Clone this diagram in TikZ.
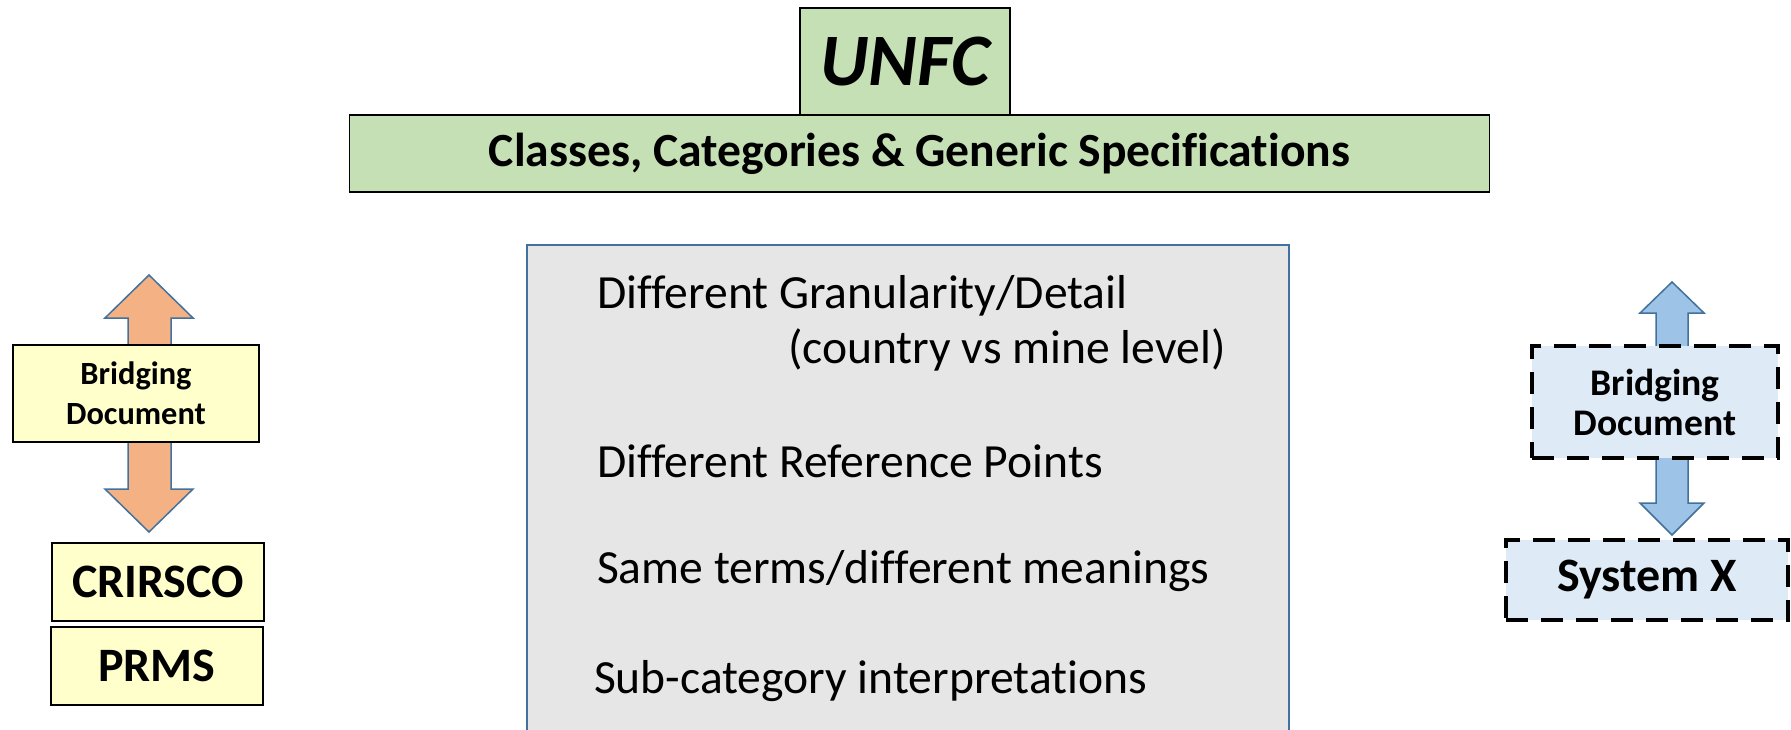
\documentclass[tikz,border=0pt]{standalone}
\usepackage{fontspec}
\setmainfont{Carlito}[Ligatures={NoCommon}]
\usetikzlibrary{positioning}
\definecolor{unfcgreen}{RGB}{197,224,180}
\definecolor{paleyellow}{RGB}{255,255,204}
\definecolor{arroworange}{RGB}{244,177,131}
\definecolor{arrowblue}{RGB}{157,195,230}
\definecolor{paleblue}{RGB}{222,235,247}
\definecolor{panelgray}{RGB}{231,230,230}
\definecolor{steel}{RGB}{65,113,156}

\begin{document}
\begin{tikzpicture}[x=0.5pt, y=-0.5pt]
\tikzset{ inner sep=0pt, outer sep=0pt,
  greenbox/.style={draw=black, line width=0.75pt, fill=unfcgreen},
  yellowbox/.style={draw=black, line width=0.9pt, fill=paleyellow, font=\bfseries},
  dashbox/.style={draw=black, line width=2.3pt, dash pattern=on 11pt off 6.5pt, fill=paleblue, font=\bfseries},
  panelbox/.style={draw=steel, line width=1pt, fill=panelgray},
  paneltext/.style={anchor=base west, font=\fontsize{23.8}{28}\selectfont},
  blockarrow/.style={draw=steel, line width=0.75pt, line join=miter},
}
\useasboundingbox (0,0) rectangle (1791,729);
%\draw [lightgray, dashed](0,0) grid[step=50] (1791,729);

% top: UNFC
\node [greenbox, minimum width=105pt, minimum height=53.5pt, font=\fontsize{37}{40}\selectfont\bfseries\itshape] (UNFC) at (905,61.5) {UNFC};
\node [greenbox, minimum width=570pt, minimum height=38.5pt, font=\fontsize{23.8}{28}\selectfont\bfseries] (CCGS) at (919.5,153.5) {Classes, Categories \& Generic Specifications};

% middle panel
\node [panelbox, minimum width=381pt, minimum height=260pt] (P) at (908,505) {};
\node [paneltext] (T1) at (597,308) {Different Granularity/Detail};
\node [paneltext] (T2) at (788,363) {(country vs mine level)};
\node [paneltext] (T3) at (597,477) {Different Reference Points};
\node [paneltext] (T4) at (597,583) {Same terms/different meanings};
\node [paneltext] (T5) at (594,693) {Sub-category interpretations};

% left side
\draw [blockarrow, fill=arroworange] (149,275) -- (193,318) -- (171,318) -- (171,489) -- (193,489)
  -- (149,532) -- (105,489) -- (128,489) -- (128,318) -- (105,318) -- cycle;
\node [yellowbox, minimum width=123pt, minimum height=48.5pt, align=center, font=\fontsize{16.2}{20}\selectfont\bfseries] (BL) at (136,393.5) {Bridging\\Document};
\node [yellowbox, minimum width=106pt, minimum height=39pt, font=\fontsize{24}{28}\selectfont\bfseries] (CRIRSCO) at (158,582) {CRIRSCO};
\node [yellowbox, minimum width=106pt, minimum height=39pt, font=\fontsize{24}{28}\selectfont\bfseries] (PRMS) at (157,666) {PRMS};

% right side
\draw [blockarrow, fill=arrowblue] (1672,282) -- (1704,313) -- (1688,313) -- (1688,503) -- (1704,503)
  -- (1672,535) -- (1640,503) -- (1656,503) -- (1656,313) -- (1640,313) -- cycle;
\node [dashbox, minimum width=123pt, minimum height=56pt, align=center, font=\fontsize{18.8}{20}\selectfont\bfseries] (BR) at (1655,402) {Bridging\\Document};
\node [dashbox, minimum width=141pt, minimum height=40pt, font=\fontsize{24}{28}\selectfont\bfseries] (SysX) at (1647,580) {System X};

\end{tikzpicture}
\end{document}
